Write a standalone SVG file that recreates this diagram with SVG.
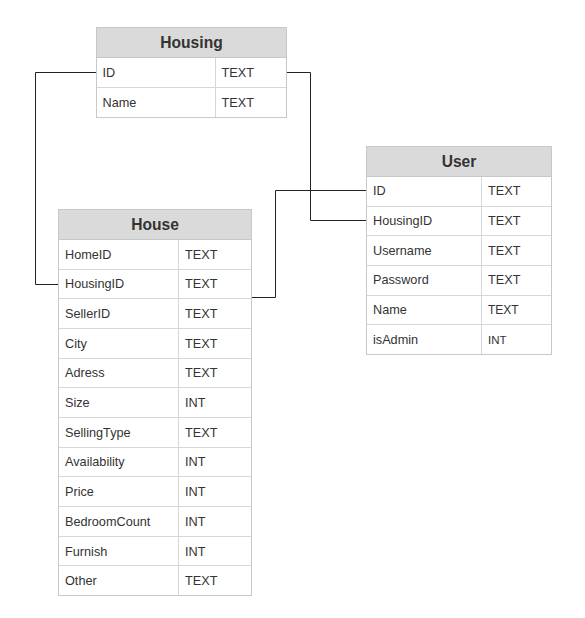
<svg xmlns="http://www.w3.org/2000/svg" width="585" height="618" viewBox="0 0 585 618">
<style>
.bg{fill:#ffffff}
.tbl{fill:#ffffff;stroke:#c8c8c8;stroke-width:1}
.hdr{fill:#dadada;stroke:#c8c8c8;stroke-width:1}
.sep{stroke:#d6d6d6;stroke-width:1;fill:none}
.title{font-family:"Liberation Sans",Arial,sans-serif;font-size:15.6px;font-weight:bold;fill:#333333;text-anchor:middle}
.cell{font-family:"Liberation Sans",Arial,sans-serif;font-size:12.7px;fill:#333333}
.conn{fill:none;stroke:#222222;stroke-width:1}
</style>
<rect class="bg" x="0" y="0" width="585" height="618"/>
<g id="connectors">
<path class="conn" d="M96 72.5 H35.5 V284.5 H59"/>
<path class="conn" d="M286 72.5 H310.5 V220.5 H367"/>
<path class="conn" d="M251 297.5 H275.5 V190.5 H367"/>
</g>
<g id="Housing">
<rect class="tbl" x="96.5" y="27.5" width="190" height="90"/>
<rect class="hdr" x="96.5" y="27.5" width="190" height="30"/>
<path class="sep" d="M97 87.5 H286 M215.5 58 V117"/>
<text class="title" x="191.5" y="48">Housing</text>
<text class="cell" x="102.5" y="77">ID</text><text class="cell" x="221.5" y="77">TEXT</text>
<text class="cell" x="102.5" y="106.5">Name</text><text class="cell" x="221.5" y="106.5">TEXT</text>
</g>
<g id="House">
<rect class="tbl" x="58.5" y="209.5" width="193" height="386"/>
<rect class="hdr" x="58.5" y="209.5" width="193" height="30"/>
<path class="sep" d="M59 269.5 H251 M59 298.5 H251 M59 328.5 H251 M59 358.5 H251 M59 387.5 H251 M59 417.5 H251 M59 447.5 H251 M59 476.5 H251 M59 506.5 H251 M59 536.5 H251 M59 565.5 H251 M178.5 240 V595"/>
<text class="title" x="155" y="230">House</text>
<text class="cell" x="65" y="258.5">HomeID</text><text class="cell" x="185" y="258.5">TEXT</text>
<text class="cell" x="65" y="288">HousingID</text><text class="cell" x="185" y="288">TEXT</text>
<text class="cell" x="65" y="318">SellerID</text><text class="cell" x="185" y="318">TEXT</text>
<text class="cell" x="65" y="347.5">City</text><text class="cell" x="185" y="347.5">TEXT</text>
<text class="cell" x="65" y="377">Adress</text><text class="cell" x="185" y="377">TEXT</text>
<text class="cell" x="65" y="407">Size</text><text class="cell" x="185" y="407">INT</text>
<text class="cell" x="65" y="436.5">SellingType</text><text class="cell" x="185" y="436.5">TEXT</text>
<text class="cell" x="65" y="466">Availability</text><text class="cell" x="185" y="466">INT</text>
<text class="cell" x="65" y="496">Price</text><text class="cell" x="185" y="496">INT</text>
<text class="cell" x="65" y="525.5">BedroomCount</text><text class="cell" x="185" y="525.5">INT</text>
<text class="cell" x="65" y="555.5">Furnish</text><text class="cell" x="185" y="555.5">INT</text>
<text class="cell" x="65" y="585">Other</text><text class="cell" x="185" y="585">TEXT</text>
</g>
<g id="User">
<rect class="tbl" x="366.5" y="146.5" width="185" height="208"/>
<rect class="hdr" x="366.5" y="146.5" width="185" height="30"/>
<path class="sep" d="M367 206.5 H551 M367 235.5 H551 M367 265.5 H551 M367 295.5 H551 M367 324.5 H551 M481.5 177 V354"/>
<text class="title" x="459" y="167">User</text>
<text class="cell" x="373" y="195">ID</text><text class="cell" x="488" y="195">TEXT</text>
<text class="cell" x="373" y="224.5">HousingID</text><text class="cell" x="488" y="224.5">TEXT</text>
<text class="cell" x="373" y="254.5">Username</text><text class="cell" x="488" y="254.5">TEXT</text>
<text class="cell" x="373" y="284">Password</text><text class="cell" x="488" y="284">TEXT</text>
<text class="cell" x="373" y="314">Name</text><text class="cell" x="488" y="314" style="font-size:12px">TEXT</text>
<text class="cell" x="373" y="343.5">isAdmin</text><text class="cell" x="488" y="343.5" style="font-size:11.5px">INT</text>
</g>
</svg>
